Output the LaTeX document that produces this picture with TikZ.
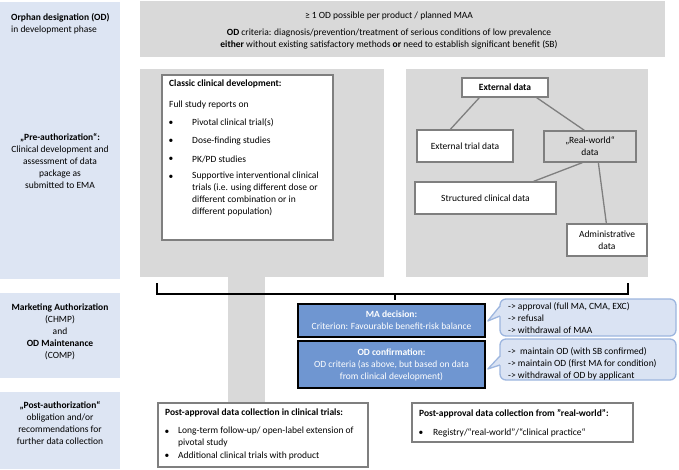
\documentclass[tikz,border=0pt]{standalone}
\usepackage{fontspec}
\setmainfont{Carlito}
\definecolor{sideblue}{HTML}{DDE5F3}
\definecolor{bggray}{HTML}{D9D9D9}
\definecolor{boxborder}{HTML}{7F7F7F}
\definecolor{decblue}{HTML}{6F96D1}
\definecolor{callfill}{HTML}{DAE3F3}
\definecolor{callline}{HTML}{9DB6DF}
\tikzset{
  txt/.style={font=\fontsize{9.5}{12}\selectfont, inner sep=0pt},
  wbox/.style={draw=boxborder, line width=1.3pt, fill=white, inner sep=0pt, font=\fontsize{9.5}{12}\selectfont, align=center},
  gbox/.style={wbox, fill=bggray},
  decbox/.style={draw=black, line width=1.6pt, fill=decblue, text=white, inner sep=0pt, font=\fontsize{9.5}{12}\selectfont, align=center},
  callbox/.style={draw=callline, line width=1.3pt, fill=callfill, rounded corners=6pt, inner sep=0pt},
  treeline/.style={draw=boxborder, line width=1.3pt},
}
\begin{document}
\begin{tikzpicture}[x=1pt,y=-1pt]
\useasboundingbox (0,0) rectangle (679,469);
% left column
\fill[sideblue] (0,2) rectangle (120,279);
\fill[sideblue] (0,293) rectangle (120,378);
\fill[sideblue] (0,392) rectangle (120,469);
\node[txt, anchor=west, align=left] (l1) at (11,24) {\textbf{Orphan designation (OD)}\\in development phase};
\node[txt, align=center] (l2) at (60,161) {\textbf{„Pre-authorization“:}\\Clinical development and\\assessment of data\\package as\\submitted to EMA};
\node[txt, align=center] (l3) at (60,332) {\textbf{Marketing Authorization}\\(CHMP)\\and\\\textbf{OD Maintenance}\\(COMP)};
\node[txt, align=center] (l4) at (60,423) {\textbf{„Post-authorization“}\\obligation and/or\\recommendations for\\further data collection};
% gray regions
\fill[bggray] (140,1) rectangle (665,57);
\fill[bggray] (140,69) rectangle (384,277);
\fill[bggray] (228,276) rectangle (265,403);
\fill[bggray] (406,69) rectangle (648,277);
% top text
\node[txt] (t1) at (389,16) {≥ 1 OD possible per product / planned MAA};
\node[txt, align=center] (t2) at (389,39) {\textbf{OD} criteria: diagnosis/prevention/treatment of serious conditions of low prevalence\\\textbf{either} without existing satisfactory methods \textbf{or} need to establish significant benefit (SB)};
% classic box
\node[wbox, minimum width=171pt, minimum height=165pt] (classic) at (247.5,157.5) {};
\node[txt, anchor=west] (c0) at (169,84) {\textbf{Classic clinical development:}};
\node[txt, anchor=west] (c1) at (169,105) {Full study reports on};
\node[txt] (b1) at (171,123) {•};
\node[txt, anchor=west] (c2) at (192,123) {Pivotal clinical trial(s)};
\node[txt] (b2) at (171,141) {•};
\node[txt, anchor=west] (c3) at (192,141) {Dose-finding studies};
\node[txt] (b3) at (171,159) {•};
\node[txt, anchor=west] (c4) at (192,159) {PK/PD studies};
\node[txt] (b4) at (171,177) {•};
\node[txt, anchor=north west, align=left] (c5) at (192,172) {Supportive interventional clinical\\trials (i.e. using different dose or\\different combination or in\\different population)};
% external data tree
\node[wbox, minimum width=86pt, minimum height=19pt] (ext) at (505,87.5) {\textbf{External data}};
\node[wbox, minimum width=96pt, minimum height=32pt] (etd) at (465,146) {External trial data};
\node[gbox, minimum width=92pt, minimum height=31pt] (rw) at (590,146.5) {„Real-world“\\data};
\node[wbox, minimum width=141pt, minimum height=32pt] (struct) at (485.5,198) {Structured clinical data};
\node[wbox, minimum width=80pt, minimum height=32pt] (adm) at (607,240) {Administrative\\data};
\draw[treeline] ([xshift=18pt]ext.south west) -- ([xshift=34pt]etd.north west);
\draw[treeline] ([xshift=-12pt]ext.south east) -- ([xshift=41pt]rw.north west);
\draw[treeline] ([xshift=39pt]rw.south west) -- ([xshift=-23pt]struct.north east);
\draw[treeline] ([xshift=55pt]rw.south west) -- ([xshift=40pt]adm.north west);
% brace
\draw[line width=1.4pt] (157,283) |- (628,294) -- (628,283);
\coordinate (bracetip) at (395,300);
\draw[line width=1.4pt] (395,294) -- (bracetip);
% decision boxes
\node[decbox, minimum width=187pt, minimum height=33pt] (ma) at (391.5,320.5) {\textbf{MA decision:}\\Criterion: Favourable benefit-risk balance};
\node[decbox, minimum width=187pt, minimum height=47pt] (odc) at (391.5,364.5) {\textbf{OD confirmation:}\\OD criteria (as above, but based on data\\from clinical development)};
% callouts
\node[callbox, minimum width=176pt, minimum height=37pt] (mac) at (588,317.5) {};
\fill[callfill] ([xshift=2pt,yshift=11.5pt]mac.west) -- ([xshift=2pt,yshift=-0.5pt]ma.east) -- ([xshift=2pt,yshift=1.5pt]mac.west) -- cycle;
\draw[callline, line width=1.3pt, line join=round] ([xshift=0.6pt,yshift=11.5pt]mac.west) -- ([xshift=2pt,yshift=-0.5pt]ma.east) -- ([xshift=0.6pt,yshift=1.5pt]mac.west);
\node[txt, anchor=west, align=left] (mat) at (508,318) {-> approval (full MA, CMA, EXC)\\-> refusal\\-> withdrawal of MAA};
\node[callbox, minimum width=176pt, minimum height=41pt] (odcc) at (588,359.5) {};
\fill[callfill] ([xshift=2pt,yshift=3.5pt]odcc.west) -- ([xshift=2pt,yshift=-4.5pt]odc.east) -- ([xshift=2pt,yshift=-5.5pt]odcc.west) -- cycle;
\draw[callline, line width=1.3pt, line join=round] ([xshift=0.6pt,yshift=3.5pt]odcc.west) -- ([xshift=2pt,yshift=-4.5pt]odc.east) -- ([xshift=0.6pt,yshift=-5.5pt]odcc.west);
\node[txt, anchor=west, align=left] (odt) at (508,364) {->\ \ maintain OD (with SB confirmed)\\-> maintain OD (first MA for condition)\\-> withdrawal of OD by applicant};
% post-approval boxes
\node[wbox, minimum width=210pt, minimum height=64pt] (pact) at (263,435) {};
\node[txt, anchor=west] (p0) at (165,413) {\textbf{Post-approval data collection in clinical trials:}};
\node[txt] (pb1) at (167,432) {•};
\node[txt, anchor=north west, align=left] (p1) at (178,427) {Long-term follow-up/ open-label extension of\\pivotal study};
\node[txt] (pb2) at (167,456) {•};
\node[txt, anchor=west] (p2) at (178,456) {Additional clinical trials with product};
\node[wbox, minimum width=221pt, minimum height=39pt] (parw) at (522.5,422.5) {};
\node[txt, anchor=west] (r0) at (419,414) {\textbf{Post-approval data collection from "real-world":}};
\node[txt] (rb1) at (421,433) {•};
\node[txt, anchor=west] (r1) at (433,433) {Registry/“real-world”/“clinical practice“};
\end{tikzpicture}
\end{document}
